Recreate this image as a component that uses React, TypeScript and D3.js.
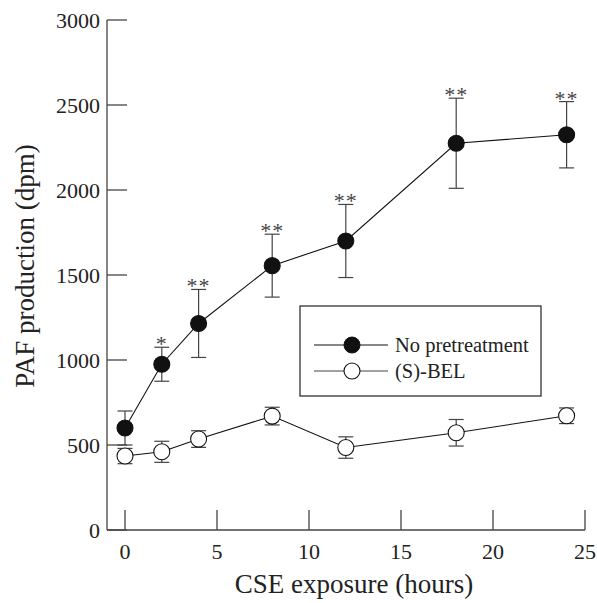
import React from 'react';
import * as d3 from 'd3';

// hours of CSE exposure
const hours = [0, 2, 4, 8, 12, 18, 24];
// PAF production (dpm), no pretreatment
const noPretreatMean = [600, 975, 1215, 1555, 1700, 2275, 2325];
const noPretreatErr = [100, 100, 200, 185, 215, 265, 195];
// PAF production (dpm), (S)-BEL pretreated
const belMean = [435, 460, 535, 670, 485, 572, 672];
const belErr = [45, 62, 49, 52, 63, 78, 46];
const stars = ['', '*', '**', '**', '**', '**', '**'];

const xTicks = [0, 5, 10, 15, 20, 25];
const yTicks = [0, 500, 1000, 1500, 2000, 2500, 3000];

const width = 597,
  height = 603;
const font = '"Liberation Serif", "DejaVu Serif", serif';

const x = d3.scaleLinear().domain([0, 25]).range([125, 585]);
const y = d3.scaleLinear().domain([0, 3000]).range([530, 20]);
const axisLeft = 107;

const line = d3.line<number>()
  .x((d, i) => x(hours[i]))
  .y(d => y(d));

function Series({ mean, err, fill }: { mean: number[]; err: number[]; fill: string }) {
  return (
    <g>
      {mean.map((m, i) => (
        <g key={'e' + i} stroke="#444" strokeWidth={1.2}>
          <line x1={x(hours[i])} x2={x(hours[i])} y1={y(m - err[i])} y2={y(m + err[i])} />
          <line x1={x(hours[i]) - 7.5} x2={x(hours[i]) + 7.5} y1={y(m + err[i])} y2={y(m + err[i])} />
          <line x1={x(hours[i]) - 7.5} x2={x(hours[i]) + 7.5} y1={y(m - err[i])} y2={y(m - err[i])} />
        </g>
      ))}
      <path d={line(mean) || ''} fill="none" stroke="#111" strokeWidth={1.1} />
      {mean.map((m, i) => (
        <circle key={'c' + i} cx={x(hours[i])} cy={y(m)} r={8} fill={fill} stroke="#111" strokeWidth={1.1} />
      ))}
    </g>
  );
}

export default function App() {
  return (
    <svg width={width} height={height} style={{ position: 'absolute', left: 0, top: 0, background: '#fff' }}
      fontFamily={font}>
      {/* axes */}
      <line x1={axisLeft} x2={axisLeft} y1={y(3000)} y2={y(0)} stroke="#444" strokeWidth={1.3} />
      <line x1={axisLeft} x2={x(25)} y1={y(0)} y2={y(0)} stroke="#444" strokeWidth={1.3} />
      {yTicks.map(t => (
        <g key={'y' + t}>
          <line x1={axisLeft} x2={axisLeft + 20} y1={y(t)} y2={y(t)} stroke="#444" strokeWidth={1.3} />
          <text x={100} y={y(t)} dy="0.35em" textAnchor="end" fontSize={22} fill="#222">{t}</text>
        </g>
      ))}
      {xTicks.map(t => (
        <g key={'x' + t}>
          <line x1={x(t)} x2={x(t)} y1={y(0)} y2={y(0) - 20} stroke="#444" strokeWidth={1.3} />
          <text x={x(t)} y={559} textAnchor="middle" fontSize={22} fill="#222">{t}</text>
        </g>
      ))}
      <text x={354} y={593} textAnchor="middle" fontSize={27} fill="#222">CSE exposure (hours)</text>
      <text transform={`translate(34,${266}) rotate(-90)`} textAnchor="middle" fontSize={27} fill="#222">
        PAF production (dpm)
      </text>

      <Series mean={belMean} err={belErr} fill="#fff" />
      <Series mean={noPretreatMean} err={noPretreatErr} fill="#111" />

      {stars.map((s, i) => s && (
        <text key={'s' + i} x={x(hours[i])} y={y(noPretreatMean[i] + noPretreatErr[i]) + 4}
          textAnchor="middle" fontSize={22} fill="#444" letterSpacing={1}>{s}</text>
      ))}

      {/* legend */}
      <rect x={300} y={306} width={241} height={90} fill="#fff" stroke="#222" strokeWidth={1.2} />
      <line x1={314} x2={388} y1={345} y2={345} stroke="#111" strokeWidth={1.1} />
      <circle cx={352} cy={345} r={8} fill="#111" stroke="#111" />
      <text x={395} y={345} dy="0.33em" fontSize={20.5} fill="#222">No pretreatment</text>
      <line x1={314} x2={388} y1={371} y2={371} stroke="#444" strokeWidth={1.1} />
      <circle cx={352} cy={371} r={8} fill="#fff" stroke="#111" strokeWidth={1.1} />
      <text x={395} y={371} dy="0.33em" fontSize={20.5} fill="#222">(S)-BEL</text>
    </svg>
  );
}
